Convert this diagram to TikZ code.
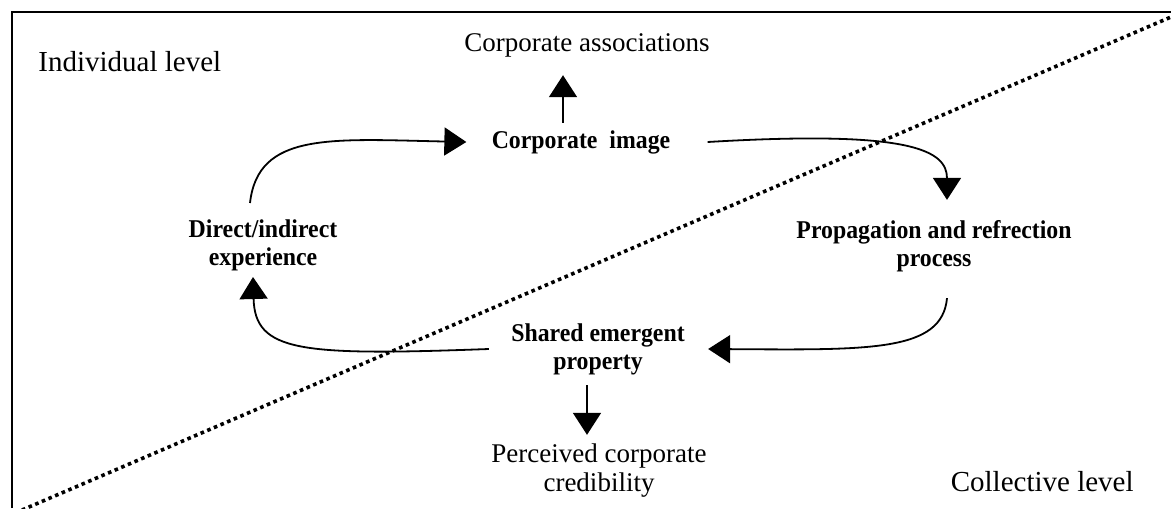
\documentclass[tikz,border=0pt]{standalone}
\usepackage{fontspec}
\setmainfont{Liberation Serif}
\newfontfamily\narrowbold[FakeStretch=0.93]{Liberation Serif}
\usetikzlibrary{arrows.meta,positioning}
\tikzset{>={Triangle[length=11pt,width=14pt]},
	every join/.style={->}}

\begin{document}
\begin{tikzpicture}[x=0.5pt,y=-0.5pt]
	\tikzset{block/.style={rectangle, align=center, inner sep=0pt, font=\fontsize{12.8}{14}\narrowbold\bfseries},
		plain/.style={rectangle, align=center, inner sep=0pt, font=\fontsize{13.5}{14.5}\selectfont},
		level/.style={rectangle, inner sep=0pt, font=\fontsize{14.5}{16}\selectfont},
		flow/.style={->, line width=0.9pt},
		levelline/.style={line width=1.8pt, dash pattern=on 1.8pt off 1.8pt},
	}
	\useasboundingbox (0,0) rectangle (1171,508);
	% frame, cut off at the right and bottom
	\draw[line width=1pt] (12,508) -- (12,12) -- (1171,12);
	\draw[levelline] (22,510) -- (1171,17);

	\node [level, anchor=west] (indiv) at (38,62) {Individual level};
	\node [level, anchor=east] (coll) at (1134,482) {Collective level};

	\node [block] (image) at (581,142) {Corporate\ \ image};
	\node [plain] (assoc) at (587,45) {Corporate associations};
	\node [block] (direct) at (263,245) {Direct/indirect\\experience};
	\node [block] (propag) at (934,246) {Propagation and refrection\\process};
	\node [block] (shared) at (598,349) {Shared emergent\\property};
	\node [plain] (cred) at (599,471) {Perceived corporate\\credibility};
	\coordinate (imgtop) at ([xshift=-9pt,yshift=3.5pt]image.north);

	% the loop
	\draw[flow] ([xshift=-6.5pt,yshift=8pt]direct.north) .. controls (258,132) and (330,139) .. ([xshift=-12.5pt]image.west);
	\draw[flow] ([xshift=18.5pt]image.east) .. controls (910,130) and (947,150) .. ([xshift=6.5pt,yshift=10pt]propag.north);
	\draw[flow] ([xshift=6.5pt,yshift=-13pt]propag.south) .. controls (942,352) and (870,350) .. ([xshift=11.5pt]shared.east);
	\draw[flow] ([xshift=-11pt]shared.west) .. controls (300,356) and (255,352) .. ([xshift=-5pt,yshift=-3pt]direct.south);

	% outputs
	\draw[flow] (imgtop) -- ([yshift=-9pt]assoc.south -| imgtop);
	\draw[flow] ([xshift=-5.5pt,yshift=-5pt]shared.south) -- ([xshift=-6pt,yshift=4.5pt]cred.north);
\end{tikzpicture}
\end{document}
